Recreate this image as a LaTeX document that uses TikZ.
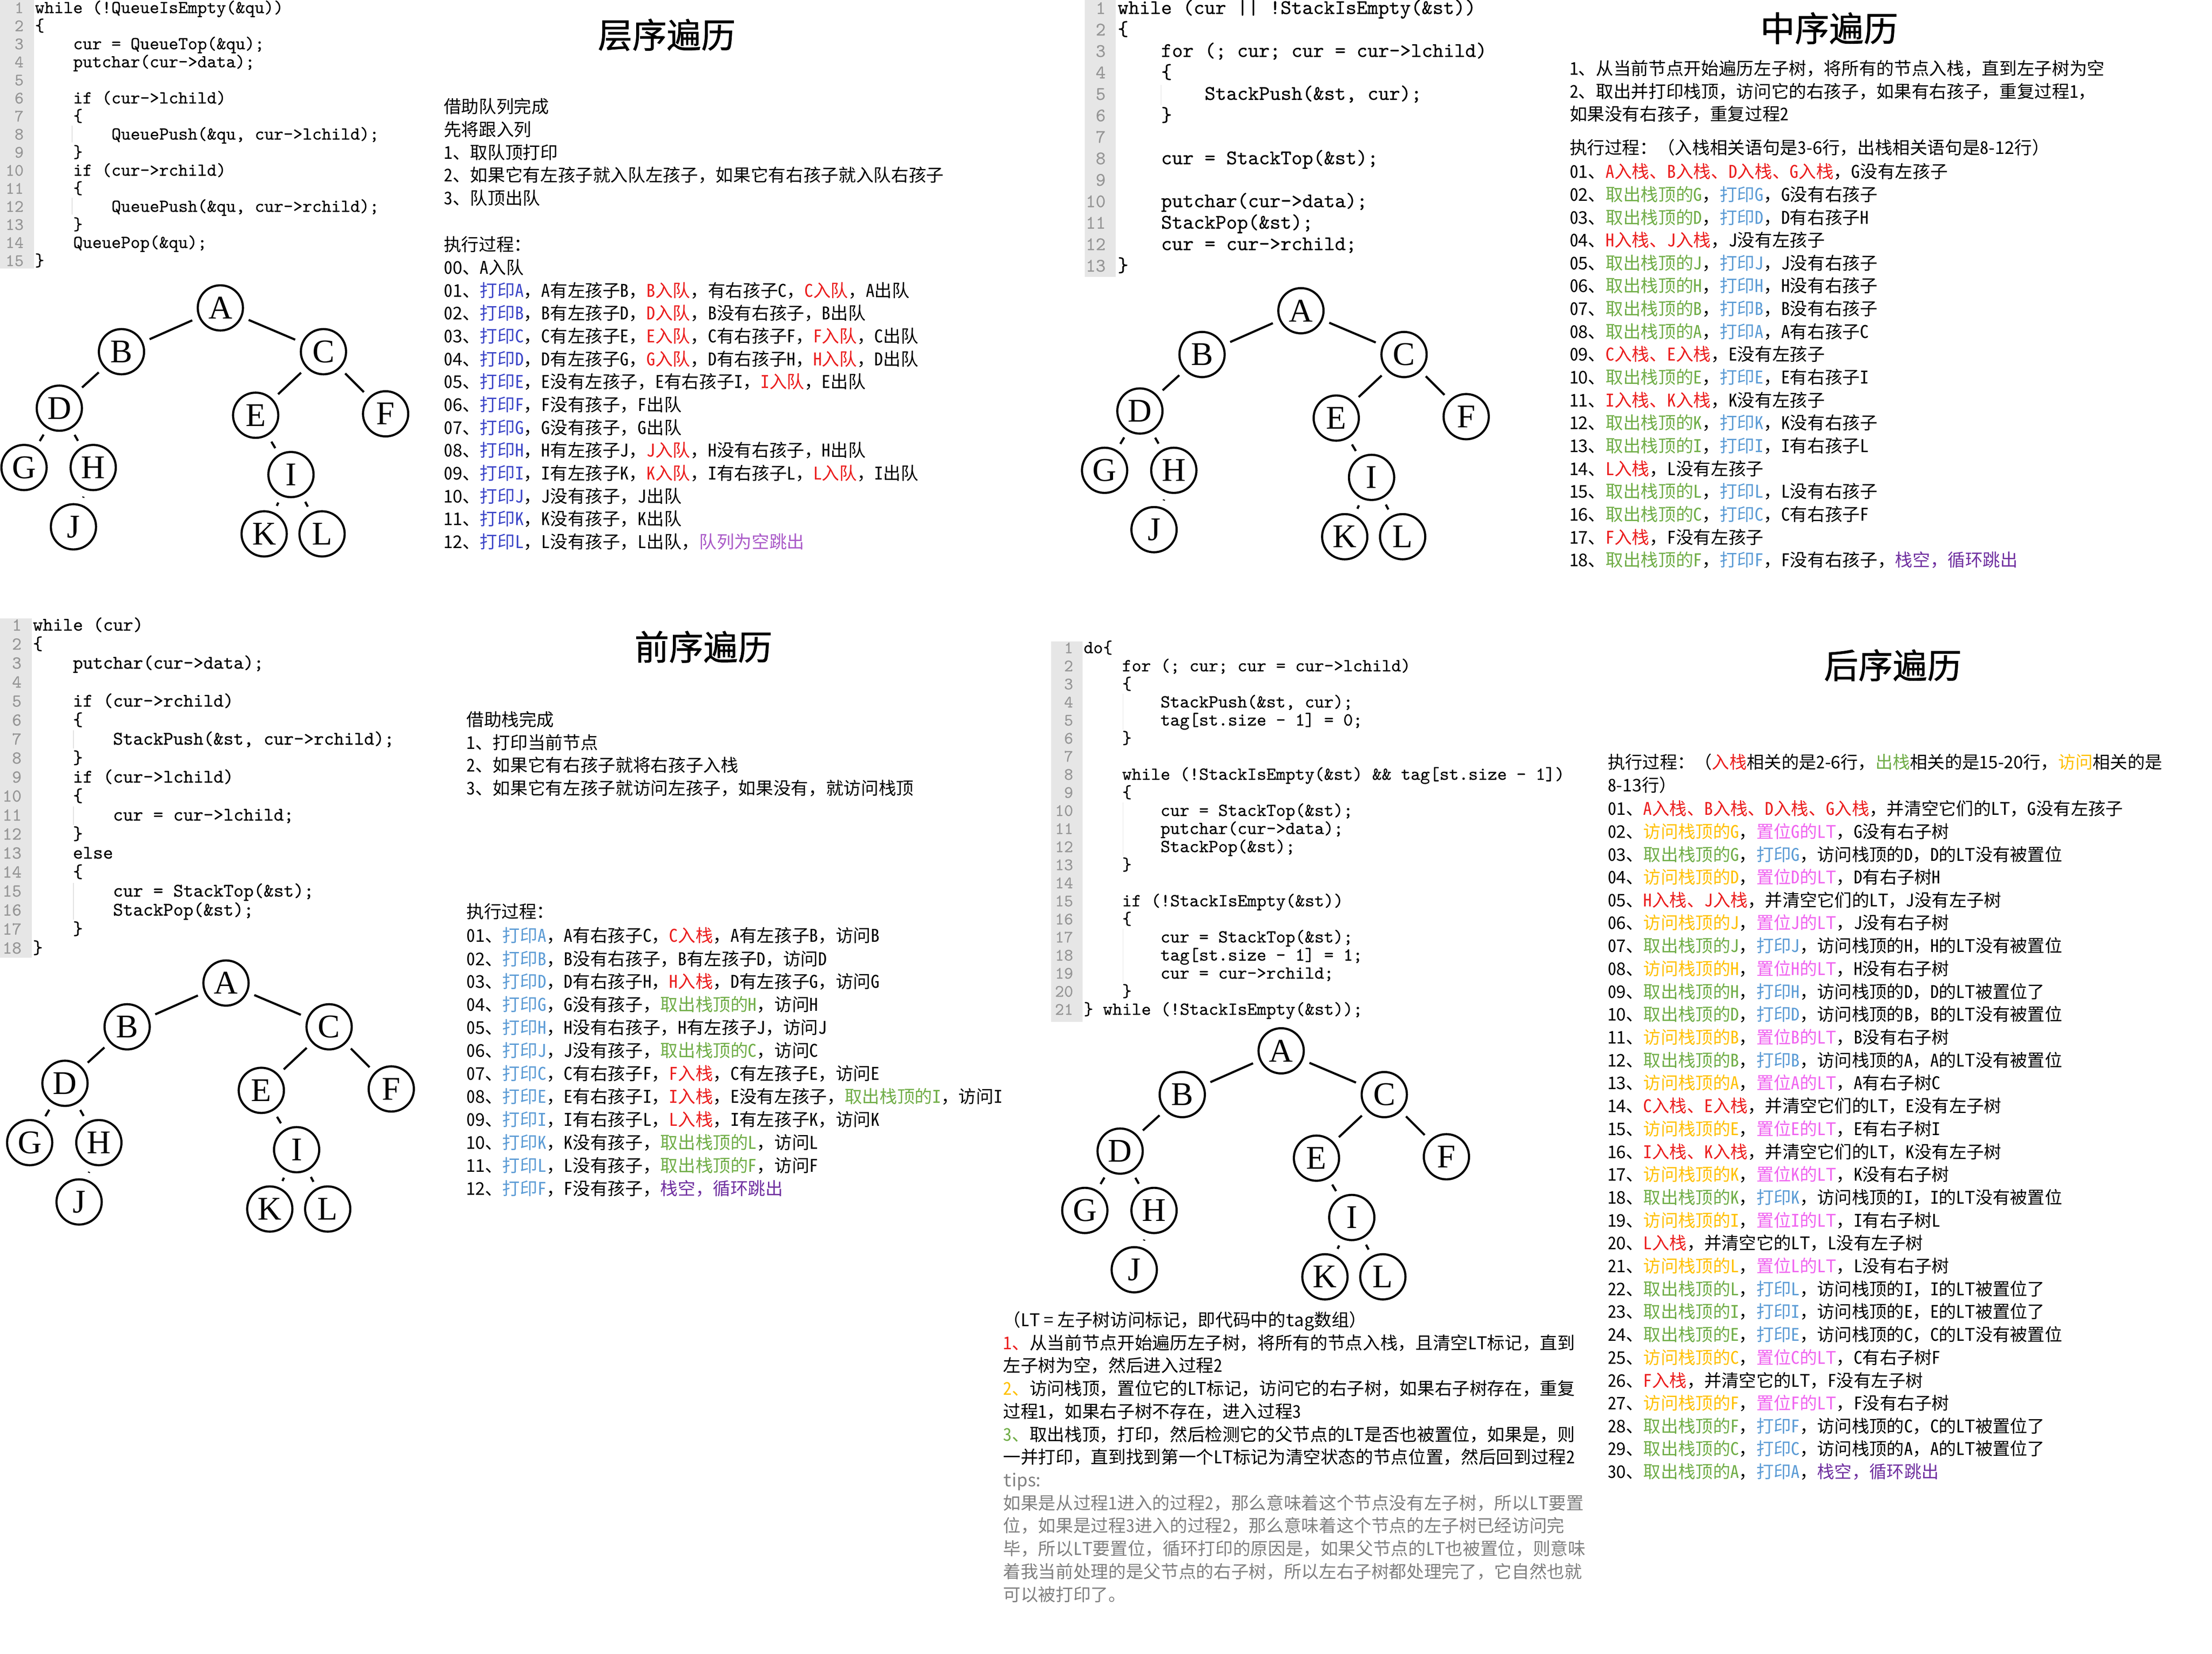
\documentclass[tikz,border=0pt]{standalone}
\usepackage{fontspec}
\setmainfont{Noto Sans CJK SC}
\setmonofont{lmmono10-regular.otf}[FakeBold=0.4]
\newfontfamily\cjkfont{Noto Sans CJK SC}
\newfontfamily\latfont{Noto Sans CJK SC}[RawFeature=+hwid]
\newfontfamily\titlefont{Noto Sans CJK SC}[FakeBold=1]
\newfontfamily\treefont{Liberation Serif}
% half width latin letters inside the chinese lines
\newXeTeXintercharclass\LatCls
\newcount\latc
\def\setlatcls#1#2{\latc=#1\relax\loop\XeTeXcharclass\latc=\LatCls\relax\ifnum\latc<#2\relax\advance\latc by 1\repeat}
\setlatcls{`0}{`9}
\setlatcls{`A}{`Z}
\setlatcls{`a}{`z}
\XeTeXcharclass`\-=\LatCls
\XeTeXinterchartoks 0 \LatCls={\latfont}
\XeTeXinterchartoks 1 \LatCls={\latfont}
\XeTeXinterchartoks 2 \LatCls={\latfont}
\XeTeXinterchartoks 3 \LatCls={\latfont}
\XeTeXinterchartoks 4095 \LatCls={\latfont}
\XeTeXinterchartoks \LatCls 0={\cjkfont}
\XeTeXinterchartoks \LatCls 1={\cjkfont}
\XeTeXinterchartoks \LatCls 2={\cjkfont}
\XeTeXinterchartoks \LatCls 3={\cjkfont}
\XeTeXinterchartoks \LatCls 4095={\cjkfont}
\definecolor{gutter}{RGB}{230,230,230}
\definecolor{numgray}{RGB}{150,150,150}
\definecolor{qblue}{RGB}{60,70,200}
\definecolor{qred}{RGB}{235,30,30}
\definecolor{qlav}{RGB}{170,90,200}
\definecolor{sgreen}{RGB}{112,173,71}
\definecolor{sblue}{RGB}{91,155,213}
\definecolor{spurple}{RGB}{112,48,160}
\definecolor{syellow}{RGB}{255,192,0}
\definecolor{smagenta}{RGB}{240,100,240}
\definecolor{tipgray}{RGB}{128,128,128}
\newcommand\cRed[1]{\textcolor{qred}{#1}}
\newcommand\cBlue[1]{\textcolor{qblue}{#1}}
\newcommand\cLav[1]{\textcolor{qlav}{#1}}
\newcommand\cGreen[1]{\textcolor{sgreen}{#1}}
\newcommand\cSky[1]{\textcolor{sblue}{#1}}
\newcommand\cPurp[1]{\textcolor{spurple}{#1}}
\newcommand\cYel[1]{\textcolor{syellow}{#1}}
\newcommand\cMag[1]{\textcolor{smagenta}{#1}}
\begin{document}
\begin{tikzpicture}[x=0.3mm,y=-0.3mm,
  txt/.style={anchor=west,inner sep=0pt,text height=.8em,text depth=.1em,font={\XeTeXinterchartokenstate=1 \fontsize{#1}{#1}\selectfont}},
  txt/.default=10.6,
  ttl/.style={inner sep=0pt,font=\titlefont\fontsize{20.8}{22}\selectfont},
  codeln/.style={anchor=west,inner sep=0pt,text height=.6em,text depth=0pt,font=\ttfamily\fontsize{#1}{#1}\selectfont},
  lnum/.style={anchor=east,inner sep=0pt,text=numgray,text height=.6em,text depth=0pt,font=\ttfamily\fontsize{#1}{#1}\selectfont},
  guide/.style={draw=black!12,line width=.4pt},
  nd/.style={circle,draw,line width=1.3pt,minimum size=9.6mm,inner sep=0pt,font=\treefont\fontsize{20}{20}\selectfont},
  br/.style={line width=1.3pt,shorten >=1.5mm,shorten <=1.5mm}]
\useasboundingbox[fill=white] (0,0) rectangle (1566,1171);

% code gutters
\fill[gutter] (0,0) rectangle (24,190);
\fill[gutter] (768,0) rectangle (790,196);
\fill[gutter] (0,438) rectangle (22.5,678);
\fill[gutter] (744,454) rectangle (766.5,723.5);

% level order code
\foreach \li in {1,...,15}
  \node[lnum=10.5] (lvn\li) at (17,5.8+12.79*\li-12.79) {\li};
\foreach \li/\di/\tx in {1/0/{while (!QueueIsEmpty(\&qu))}, 2/0/{\{}, 3/1/{cur = QueueTop(\&qu);},
  4/1/{putchar(cur->data);}, 6/1/{if (cur->lchild)}, 7/1/{\{}, 8/2/{QueuePush(\&qu, cur->lchild);},
  9/1/{\}}, 10/1/{if (cur->rchild)}, 11/1/{\{}, 12/2/{QueuePush(\&qu, cur->rchild);}, 13/1/{\}},
  14/1/{QueuePop(\&qu);}, 15/0/{\}}}
  \node[codeln=11] (lvc\li) at (24.5+27.1*\di,5.8+12.79*\li-12.79) {\tx};
\draw[guide] (51,89) -- (51,101);
\draw[guide] (51,140) -- (51,152);

% in order code
\foreach \li in {1,...,13}
  \node[lnum=11.5] (mdn\li) at (783,6.4+15.2*\li-15.2) {\li};
\foreach \li/\di/\tx in {1/0/{while (cur || !StackIsEmpty(\&st))}, 2/0/{\{}, 3/1/{for (; cur; cur = cur->lchild)},
  4/1/{\{}, 5/2/{StackPush(\&st, cur);}, 6/1/{\}}, 8/1/{cur = StackTop(\&st);},
  10/1/{putchar(cur->data);}, 11/1/{StackPop(\&st);}, 12/1/{cur = cur->rchild;}, 13/0/{\}}}
  \node[codeln=12.5] (mdc\li) at (791+30.8*\di,6.4+15.2*\li-15.2) {\tx};
\draw[guide] (822,60) -- (822,74.6);

% pre order code
\foreach \li in {1,...,18}
  \node[lnum=11] (prn\li) at (15.5,443+13.45*\li-13.45) {\li};
\foreach \li/\di/\tx in {1/0/{while (cur)}, 2/0/{\{}, 3/1/{putchar(cur->data);}, 5/1/{if (cur->rchild)},
  6/1/{\{}, 7/2/{StackPush(\&st, cur->rchild);}, 8/1/{\}}, 9/1/{if (cur->lchild)}, 10/1/{\{},
  11/2/{cur = cur->lchild;}, 12/1/{\}}, 13/1/{else}, 14/1/{\{}, 15/2/{cur = StackTop(\&st);},
  16/2/{StackPop(\&st);}, 17/1/{\}}, 18/0/{\}}}
  \node[codeln=11.56] (prc\li) at (23+28.4*\di,443+13.45*\li-13.45) {\tx};
\draw[guide] (52,517) -- (52,530);
\draw[guide] (52,571) -- (52,584);
\draw[guide] (52,625) -- (52,651);

% post order code
\foreach \li in {1,...,21}
  \node[lnum=10.5] (psn\li) at (760,459+12.8*\li-12.8) {\li};
\foreach \li/\di/\tx in {1/0/{do\{}, 2/1/{for (; cur; cur = cur->lchild)}, 3/1/{\{}, 4/2/{StackPush(\&st, cur);},
  5/2/{tag[st.size - 1] = 0;}, 6/1/{\}}, 8/1/{while (!StackIsEmpty(\&st) \&\& tag[st.size - 1])},
  9/1/{\{}, 10/2/{cur = StackTop(\&st);}, 11/2/{putchar(cur->data);}, 12/2/{StackPop(\&st);},
  13/1/{\}}, 15/1/{if (!StackIsEmpty(\&st))}, 16/1/{\{}, 17/2/{cur = StackTop(\&st);},
  18/2/{tag[st.size - 1] = 1;}, 19/2/{cur = cur->rchild;}, 20/1/{\}}, 21/0/{\} while (!StackIsEmpty(\&st));}}
  \node[codeln=11.07] (psc\li) at (767+27.2*\di,459+12.8*\li-12.8) {\tx};
\draw[guide] (795,491) -- (795,516.6);
\draw[guide] (795,568) -- (795,606);
\draw[guide] (795,657.4) -- (795,695.8);

% the four trees
\foreach \p/\ax/\ay in {lv/156/218, md/921/220, pr/160/696, ps/907/744} {
  \foreach \v/\dx/\dy in {A/0/0, B/-70/31, C/73/31, D/-114/71, E/25/76, F/117/75,
      G/-139/113, H/-90/113, I/50/118, J/-104/155, K/31/160, L/72/160}
    \node[nd] (\p\v) at ({\ax+\dx},{\ay+\dy}) {\v};
  \foreach \u/\v in {A/B, A/C, B/D, C/E, C/F, D/G, D/H, E/I, H/J, I/K, I/L}
    \draw[br] (\p\u) -- (\p\v);
}

% level order text
\node[ttl] (lvt) at (472,24.7) {层序遍历};
\node[txt] (lvh1) at (314,76) {借助队列完成};
\node[txt] (lvh2) at (314,92.2) {先将跟入列};
\node[txt] (lvh3) at (314,108.4) {1、取队顶打印};
\node[txt] (lvh4) at (314,124.6) {2、如果它有左孩子就入队左孩子，如果它有右孩子就入队右孩子};
\node[txt] (lvh5) at (314,140.8) {3、队顶出队};
\node[txt] (lvrun) at (314,173.6) {执行过程：};
\node[txt] (lv00) at (314,190) {00、A入队};
\node[txt] (lv01) at (314,206.2) {01、\cBlue{打印A}，A有左孩子B，\cRed{B入队}，有右孩子C，\cRed{C入队}，A出队};
\node[txt] (lv02) at (314,222.3) {02、\cBlue{打印B}，B有左孩子D，\cRed{D入队}，B没有右孩子，B出队};
\node[txt] (lv03) at (314,238.5) {03、\cBlue{打印C}，C有左孩子E，\cRed{E入队}，C有右孩子F，\cRed{F入队}，C出队};
\node[txt] (lv04) at (314,254.7) {04、\cBlue{打印D}，D有左孩子G，\cRed{G入队}，D有右孩子H，\cRed{H入队}，D出队};
\node[txt] (lv05) at (314,270.8) {05、\cBlue{打印E}，E没有左孩子，E有右孩子I，\cRed{I入队}，E出队};
\node[txt] (lv06) at (314,287) {06、\cBlue{打印F}，F没有孩子，F出队};
\node[txt] (lv07) at (314,303.2) {07、\cBlue{打印G}，G没有孩子，G出队};
\node[txt] (lv08) at (314,319.3) {08、\cBlue{打印H}，H有左孩子J，\cRed{J入队}，H没有右孩子，H出队};
\node[txt] (lv09) at (314,335.5) {09、\cBlue{打印I}，I有左孩子K，\cRed{K入队}，I有右孩子L，\cRed{L入队}，I出队};
\node[txt] (lv10) at (314,351.7) {10、\cBlue{打印J}，J没有孩子，J出队};
\node[txt] (lv11) at (314,367.8) {11、\cBlue{打印K}，K没有孩子，K出队};
\node[txt] (lv12) at (314,384) {12、\cBlue{打印L}，L没有孩子，L出队，\cLav{队列为空跳出}};

% in order text
\node[ttl] (mdt) at (1295,20) {中序遍历};
\node[txt] (mdh1) at (1111,49) {1、从当前节点开始遍历左子树，将所有的节点入栈，直到左子树为空};
\node[txt] (mdh2) at (1111,65.2) {2、取出并打印栈顶，访问它的右孩子，如果有右孩子，重复过程1，};
\node[txt] (mdh3) at (1111,81.4) {如果没有右孩子，重复过程2};
\node[txt] (mdrun) at (1111,105) {执行过程：（入栈相关语句是3-6行，出栈相关语句是8-12行）};
\node[txt] (md01) at (1111,122) {01、\cRed{A入栈、B入栈、D入栈、G入栈}，G没有左孩子};
\node[txt] (md02) at (1111,138.2) {02、\cGreen{取出栈顶的G}，\cSky{打印G}，G没有右孩子};
\node[txt] (md03) at (1111,154.4) {03、\cGreen{取出栈顶的D}，\cSky{打印D}，D有右孩子H};
\node[txt] (md04) at (1111,170.5) {04、\cRed{H入栈、J入栈}，J没有左孩子};
\node[txt] (md05) at (1111,186.7) {05、\cGreen{取出栈顶的J}，\cSky{打印J}，J没有右孩子};
\node[txt] (md06) at (1111,202.9) {06、\cGreen{取出栈顶的H}，\cSky{打印H}，H没有右孩子};
\node[txt] (md07) at (1111,219.1) {07、\cGreen{取出栈顶的B}，\cSky{打印B}，B没有右孩子};
\node[txt] (md08) at (1111,235.3) {08、\cGreen{取出栈顶的A}，\cSky{打印A}，A有右孩子C};
\node[txt] (md09) at (1111,251.4) {09、\cRed{C入栈、E入栈}，E没有左孩子};
\node[txt] (md10) at (1111,267.6) {10、\cGreen{取出栈顶的E}，\cSky{打印E}，E有右孩子I};
\node[txt] (md11) at (1111,283.8) {11、\cRed{I入栈、K入栈}，K没有左孩子};
\node[txt] (md12) at (1111,300) {12、\cGreen{取出栈顶的K}，\cSky{打印K}，K没有右孩子};
\node[txt] (md13) at (1111,316.2) {13、\cGreen{取出栈顶的I}，\cSky{打印I}，I有右孩子L};
\node[txt] (md14) at (1111,332.3) {14、\cRed{L入栈}，L没有左孩子};
\node[txt] (md15) at (1111,348.5) {15、\cGreen{取出栈顶的L}，\cSky{打印L}，L没有右孩子};
\node[txt] (md16) at (1111,364.7) {16、\cGreen{取出栈顶的C}，\cSky{打印C}，C有右孩子F};
\node[txt] (md17) at (1111,380.9) {17、\cRed{F入栈}，F没有左孩子};
\node[txt] (md18) at (1111,397) {18、\cGreen{取出栈顶的F}，\cSky{打印F}，F没有右孩子，\cPurp{栈空，循环跳出}};

% pre order text
\node[ttl] (prt) at (498,458) {前序遍历};
\node[txt] (prh1) at (330,510) {借助栈完成};
\node[txt] (prh2) at (330,526.2) {1、打印当前节点};
\node[txt] (prh3) at (330,542.4) {2、如果它有右孩子就将右孩子入栈};
\node[txt] (prh4) at (330,558.6) {3、如果它有左孩子就访问左孩子，如果没有，就访问栈顶};
\node[txt] (prrun) at (330,646) {执行过程：};
\node[txt] (pr01) at (330,663) {01、\cSky{打印A}，A有右孩子C，\cRed{C入栈}，A有左孩子B，访问B};
\node[txt] (pr02) at (330,679.3) {02、\cSky{打印B}，B没有右孩子，B有左孩子D，访问D};
\node[txt] (pr03) at (330,695.5) {03、\cSky{打印D}，D有右孩子H，\cRed{H入栈}，D有左孩子G，访问G};
\node[txt] (pr04) at (330,711.8) {04、\cSky{打印G}，G没有孩子，\cGreen{取出栈顶的H}，访问H};
\node[txt] (pr05) at (330,728.1) {05、\cSky{打印H}，H没有右孩子，H有左孩子J，访问J};
\node[txt] (pr06) at (330,744.4) {06、\cSky{打印J}，J没有孩子，\cGreen{取出栈顶的C}，访问C};
\node[txt] (pr07) at (330,760.6) {07、\cSky{打印C}，C有右孩子F，\cRed{F入栈}，C有左孩子E，访问E};
\node[txt] (pr08) at (330,776.9) {08、\cSky{打印E}，E有右孩子I，\cRed{I入栈}，E没有左孩子，\cGreen{取出栈顶的I}，访问I};
\node[txt] (pr09) at (330,793.2) {09、\cSky{打印I}，I有右孩子L，\cRed{L入栈}，I有左孩子K，访问K};
\node[txt] (pr10) at (330,809.4) {10、\cSky{打印K}，K没有孩子，\cGreen{取出栈顶的L}，访问L};
\node[txt] (pr11) at (330,825.7) {11、\cSky{打印L}，L没有孩子，\cGreen{取出栈顶的F}，访问F};
\node[txt] (pr12) at (330,842) {12、\cSky{打印F}，F没有孩子，\cPurp{栈空，循环跳出}};

% post order text
\node[ttl] (pst) at (1340,471) {后序遍历};
\node[txt=10.5] (psrun) at (1138,540) {执行过程：（\cRed{入栈}相关的是2-6行，\cGreen{出栈}相关的是15-20行，\cYel{访问}相关的是};
\node[txt=10.5] (psrun2) at (1138,556.5) {8-13行）};
\node[txt=10.5] (ps01) at (1138,573) {01、\cRed{A入栈、B入栈、D入栈、G入栈}，并清空它们的LT，G没有左孩子};
\node[txt=10.5] (ps02) at (1138,589.2) {02、\cYel{访问栈顶的G}，\cMag{置位G的LT}，G没有右子树};
\node[txt=10.5] (ps03) at (1138,605.4) {03、\cGreen{取出栈顶的G}，\cSky{打印G}，访问栈顶的D，D的LT没有被置位};
\node[txt=10.5] (ps04) at (1138,621.6) {04、\cYel{访问栈顶的D}，\cMag{置位D的LT}，D有右子树H};
\node[txt=10.5] (ps05) at (1138,637.8) {05、\cRed{H入栈、J入栈}，并清空它们的LT，J没有左子树};
\node[txt=10.5] (ps06) at (1138,653.9) {06、\cYel{访问栈顶的J}，\cMag{置位J的LT}，J没有右子树};
\node[txt=10.5] (ps07) at (1138,670.1) {07、\cGreen{取出栈顶的J}，\cSky{打印J}，访问栈顶的H，H的LT没有被置位};
\node[txt=10.5] (ps08) at (1138,686.3) {08、\cYel{访问栈顶的H}，\cMag{置位H的LT}，H没有右子树};
\node[txt=10.5] (ps09) at (1138,702.5) {09、\cGreen{取出栈顶的H}，\cSky{打印H}，访问栈顶的D，D的LT被置位了};
\node[txt=10.5] (ps10) at (1138,718.7) {10、\cGreen{取出栈顶的D}，\cSky{打印D}，访问栈顶的B，B的LT没有被置位};
\node[txt=10.5] (ps11) at (1138,734.9) {11、\cYel{访问栈顶的B}，\cMag{置位B的LT}，B没有右子树};
\node[txt=10.5] (ps12) at (1138,751.1) {12、\cGreen{取出栈顶的B}，\cSky{打印B}，访问栈顶的A，A的LT没有被置位};
\node[txt=10.5] (ps13) at (1138,767.3) {13、\cYel{访问栈顶的A}，\cMag{置位A的LT}，A有右子树C};
\node[txt=10.5] (ps14) at (1138,783.5) {14、\cRed{C入栈、E入栈}，并清空它们的LT，E没有左子树};
\node[txt=10.5] (ps15) at (1138,799.7) {15、\cYel{访问栈顶的E}，\cMag{置位E的LT}，E有右子树I};
\node[txt=10.5] (ps16) at (1138,815.9) {16、\cRed{I入栈、K入栈}，并清空它们的LT，K没有左子树};
\node[txt=10.5] (ps17) at (1138,832) {17、\cYel{访问栈顶的K}，\cMag{置位K的LT}，K没有右子树};
\node[txt=10.5] (ps18) at (1138,848.2) {18、\cGreen{取出栈顶的K}，\cSky{打印K}，访问栈顶的I，I的LT没有被置位};
\node[txt=10.5] (ps19) at (1138,864.4) {19、\cYel{访问栈顶的I}，\cMag{置位I的LT}，I有右子树L};
\node[txt=10.5] (ps20) at (1138,880.6) {20、\cRed{L入栈}，并清空它的LT，L没有左子树};
\node[txt=10.5] (ps21) at (1138,896.8) {21、\cYel{访问栈顶的L}，\cMag{置位L的LT}，L没有右子树};
\node[txt=10.5] (ps22) at (1138,913) {22、\cGreen{取出栈顶的L}，\cSky{打印L}，访问栈顶的I，I的LT被置位了};
\node[txt=10.5] (ps23) at (1138,929.2) {23、\cGreen{取出栈顶的I}，\cSky{打印I}，访问栈顶的E，E的LT被置位了};
\node[txt=10.5] (ps24) at (1138,945.4) {24、\cGreen{取出栈顶的E}，\cSky{打印E}，访问栈顶的C，C的LT没有被置位};
\node[txt=10.5] (ps25) at (1138,961.6) {25、\cYel{访问栈顶的C}，\cMag{置位C的LT}，C有右子树F};
\node[txt=10.5] (ps26) at (1138,977.8) {26、\cRed{F入栈}，并清空它的LT，F没有左子树};
\node[txt=10.5] (ps27) at (1138,993.9) {27、\cYel{访问栈顶的F}，\cMag{置位F的LT}，F没有右子树};
\node[txt=10.5] (ps28) at (1138,1010.1) {28、\cGreen{取出栈顶的F}，\cSky{打印F}，访问栈顶的C，C的LT被置位了};
\node[txt=10.5] (ps29) at (1138,1026.3) {29、\cGreen{取出栈顶的C}，\cSky{打印C}，访问栈顶的A，A的LT被置位了};
\node[txt=10.5] (ps30) at (1138,1042.5) {30、\cGreen{取出栈顶的A}，\cSky{打印A}，\cPurp{栈空，循环跳出}};

% post order notes
\node[txt] (bm0) at (710,935) {（LT = 左子树访问标记，即代码中的tag数组）};
\node[txt] (bm1) at (710,951.2) {\cRed{1、}从当前节点开始遍历左子树，将所有的节点入栈，且清空LT标记，直到};
\node[txt] (bm2) at (710,967.4) {左子树为空，然后进入过程2};
\node[txt] (bm3) at (710,983.6) {\cYel{2、}访问栈顶，置位它的LT标记，访问它的右子树，如果右子树存在，重复};
\node[txt] (bm4) at (710,999.8) {过程1，如果右子树不存在，进入过程3};
\node[txt] (bm5) at (710,1016) {\cGreen{3、}取出栈顶，打印，然后检测它的父节点的LT是否也被置位，如果是，则};
\node[txt] (bm6) at (710,1032.2) {一并打印，直到找到第一个LT标记为清空状态的节点位置，然后回到过程2};
\node[txt,text=tipgray] (bm7) at (710,1048.4) {tips:};
\node[txt,text=tipgray] (bm8) at (710,1064.6) {如果是从过程1进入的过程2，那么意味着这个节点没有左子树，所以LT要置};
\node[txt,text=tipgray] (bm9) at (710,1080.8) {位，如果是过程3进入的过程2，那么意味着这个节点的左子树已经访问完};
\node[txt,text=tipgray] (bm10) at (710,1097) {毕，所以LT要置位，循环打印的原因是，如果父节点的LT也被置位，则意味};
\node[txt,text=tipgray] (bm11) at (710,1113.2) {着我当前处理的是父节点的右子树，所以左右子树都处理完了，它自然也就};
\node[txt,text=tipgray] (bm12) at (710,1129.4) {可以被打印了。};
\end{tikzpicture}
\end{document}
